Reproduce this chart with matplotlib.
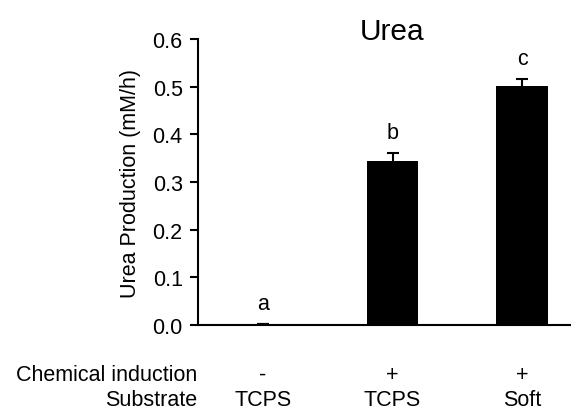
import numpy as np
import matplotlib.pyplot as plt
import matplotlib.transforms as mtransforms

plt.rcParams['font.family'] = ['Liberation Sans', 'DejaVu Sans']

induction = ["-", "+", "+"]
substrate = ["TCPS", "TCPS", "Soft"]
urea = [0.003, 0.344, 0.502]
err = [0.0, 0.017, 0.014]
letters = ["a", "b", "c"]

x = np.arange(len(urea))
fs = 15.5

fig = plt.figure(figsize=(5.71, 4.10), dpi=100)
ax = fig.add_axes([198 / 571, 84 / 410, 389 / 571, 286 / 410])

ax.bar(x, urea, width=0.4, color="black", yerr=err,
       error_kw=dict(ecolor="black", elinewidth=1.5, capsize=4, capthick=1.5))

# letras de significancia
for xi, v, e, l in zip(x, urea, err, letters):
    ax.annotate(l, (xi, v + e), xytext=(0, 7), textcoords="offset points",
                ha="center", va="bottom", fontsize=fs)

ax.set_xlim(-0.5, 2.5)
ax.set_ylim(0, 0.6)
ax.set_yticks(np.arange(0, 0.61, 0.1))
ax.set_yticklabels([f"{t:.1f}" for t in np.arange(0, 0.61, 0.1)], fontsize=fs)
ax.set_xticks([])
ax.spines["top"].set_visible(False)
ax.spines["right"].set_visible(False)
ax.spines["left"].set_linewidth(1.5)
ax.spines["bottom"].set_linewidth(1.5)
ax.tick_params(axis="y", direction="out", length=6, width=1.5, pad=5)
ax.set_ylabel("Urea Production (mM/h)", fontsize=fs, labelpad=8)
ax.text(0.5, 1.0, "Urea", transform=ax.transAxes, ha="center", va="baseline",
        fontsize=21.5)

trans = mtransforms.blended_transform_factory(ax.transData, fig.transFigure)
for xi, ind, sub in zip(x, induction, substrate):
    ax.text(xi, 0.085, ind, transform=trans, ha="center", va="center", fontsize=fs)
    ax.text(xi, 0.024, sub, transform=trans, ha="center", va="center", fontsize=fs)

fig.text(197 / 571, 0.085, "Chemical induction", ha="right", va="center", fontsize=fs)
fig.text(197 / 571, 0.024, "Substrate", ha="right", va="center", fontsize=fs)

fig.savefig("out.png", dpi=100)
